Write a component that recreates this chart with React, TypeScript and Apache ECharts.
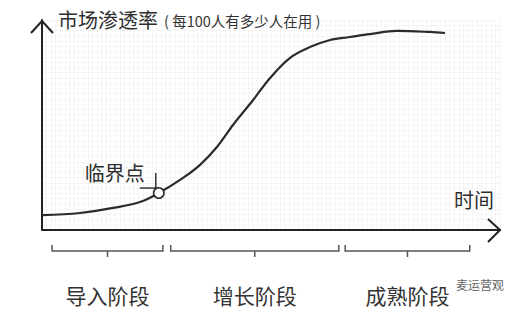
import React, { useEffect, useRef } from "react";
import * as echarts from "echarts";

// S-curve: time (0-100) vs market penetration (per 100 people)
const timeX = [0, 8.3, 15.5, 21.4, 25.5, 30.8, 34.5, 38.2, 41.7, 46.1, 49.8, 54.1, 58.5, 62.9, 67.2, 71.6, 77.5, 84.7, 88.0];
const penetration = [7.1, 8.1, 10.5, 13.3, 17.6, 24.8, 31.0, 39.5, 50.0, 61.9, 72.4, 81.9, 87.1, 90.5, 91.9, 93.3, 94.8, 94.3, 93.8];

const stageNames = ["导入阶段", "增长阶段", "成熟阶段"];
const stageStart = [2.2, 28.1, 66.2];
const stageEnd = [26.4, 64.8, 93.4];

const criticalPoint = [25.5, 17.6];
const criticalLabel = "临界点";

const yTitle = "市场渗透率";
const ySubtitle = "( 每100人有多少人在用 )";
const xTitle = "时间";
const watermark = "麦运营观";

const FONT = '"Noto Sans CJK SC", "Noto Sans", sans-serif';

export default function App() {
  const ref = useRef<HTMLDivElement>(null);

  useEffect(() => {
    if (!ref.current) return;
    const chart = echarts.init(ref.current, null, { renderer: "svg" });

    const option: any = {
      animation: false,
      backgroundColor: "#ffffff",
      grid: { left: 42, right: 18, top: 20, bottom: 85 },
      xAxis: {
        type: "value",
        min: 0,
        max: 100,
        interval: 1,
        axisLine: { show: true, onZero: false, lineStyle: { color: "#222", width: 2 } },
        axisTick: { show: false },
        axisLabel: { show: false },
        splitLine: { show: true, lineStyle: { color: "#f5f5f5", width: 1 } },
      },
      yAxis: {
        type: "value",
        min: 0,
        max: 100,
        interval: 2.5,
        axisLine: { show: true, onZero: false, lineStyle: { color: "#222", width: 2 } },
        axisTick: { show: false },
        axisLabel: { show: false },
        splitLine: { show: true, lineStyle: { color: "#f5f5f5", width: 1 } },
      },
      graphic: [
        {
          type: "text",
          left: 57,
          top: 8,
          z: 100,
          style: { text: yTitle, font: `20px ${FONT}`, fill: "#2e2e2e", stroke: "#fff", lineWidth: 2 },
        },
        {
          type: "text",
          left: 163,
          top: 12,
          z: 100,
          style: { text: ySubtitle, font: `14.5px ${FONT}`, fill: "#333", stroke: "#fff", lineWidth: 2 },
        },
        {
          type: "text",
          left: 453,
          top: 188,
          z: 100,
          style: { text: xTitle, font: `20px ${FONT}`, fill: "#2e2e2e", stroke: "#fff", lineWidth: 2 },
        },
        {
          type: "text",
          left: 455,
          top: 277,
          z: 100,
          style: { text: watermark, font: `12px ${FONT}`, fill: "#666", stroke: "#fff", lineWidth: 2 },
        },
      ],
      series: [
        {
          type: "line",
          data: timeX.map((x, i) => [x, penetration[i]]),
          smooth: 0.35,
          showSymbol: false,
          lineStyle: { color: "#2b2b2b", width: 2.2 },
          z: 3,
        },
        {
          type: "custom",
          clip: false,
          z: 5,
          data: [criticalPoint],
          renderItem: (params: any, api: any) => {
            const p = api.coord([api.value(0), api.value(1)]);
            return {
              type: "group",
              children: [
                {
                  type: "line",
                  shape: { x1: p[0] - 19, y1: p[1] - 5, x2: p[0] - 1, y2: p[1] - 5 },
                  style: { stroke: "#333", lineWidth: 1.5 },
                },
                {
                  type: "line",
                  shape: { x1: p[0] - 3, y1: p[1] - 20, x2: p[0] - 3, y2: p[1] - 2 },
                  style: { stroke: "#333", lineWidth: 1.5 },
                },
                {
                  type: "circle",
                  shape: { cx: p[0], cy: p[1], r: 5.2 },
                  style: { fill: "#fff", stroke: "#2b2b2b", lineWidth: 1.6 },
                },
                {
                  type: "text",
                  x: p[0] - 14,
                  y: p[1] - 21,
                  style: {
                    text: criticalLabel,
                    font: `20px ${FONT}`,
                    fill: "#2e2e2e",
                    align: "right",
                    verticalAlign: "middle",
                  },
                },
              ],
            };
          },
        },
        {
          type: "custom",
          clip: false,
          z: 4,
          data: [[100, 100]],
          renderItem: (params: any, api: any) => {
            const xe = api.coord([api.value(0), 0]);
            const ye = api.coord([0, api.value(1)]);
            return {
              type: "group",
              children: [
                {
                  type: "polyline",
                  shape: { points: [[xe[0] - 12, xe[1] - 11], [xe[0], xe[1]], [xe[0] - 12, xe[1] + 12]] },
                  style: { stroke: "#222", lineWidth: 2, fill: null },
                },
                {
                  type: "polyline",
                  shape: { points: [[ye[0] - 11, ye[1] + 13], [ye[0], ye[1] + 1], [ye[0] + 11, ye[1] + 13]] },
                  style: { stroke: "#222", lineWidth: 2, fill: null },
                },
              ],
            };
          },
        },
        {
          type: "custom",
          clip: false,
          z: 4,
          data: stageStart.map((s, i) => [s, stageEnd[i], i]),
          renderItem: (params: any, api: any) => {
            const s = api.value(0);
            const e = api.value(1);
            const idx = params.dataIndex;
            const p0 = api.coord([s, 0]);
            const p1 = api.coord([e, 0]);
            const y = p0[1] + 21;
            const cx = (p0[0] + p1[0]) / 2;
            return {
              type: "group",
              children: [
                {
                  type: "polyline",
                  shape: { points: [[p0[0], y - 6], [p0[0], y], [p1[0], y], [p1[0], y - 6]] },
                  style: { stroke: "#555", lineWidth: 1.5, fill: null },
                },
                {
                  type: "line",
                  shape: { x1: cx, y1: y, x2: cx, y2: y + 6 },
                  style: { stroke: "#555", lineWidth: 1.5 },
                },
                {
                  type: "text",
                  x: cx,
                  y: p0[1] + 65,
                  style: {
                    text: stageNames[idx],
                    font: `21px ${FONT}`,
                    fill: "#333",
                    align: "center",
                    verticalAlign: "middle",
                  },
                },
              ],
            };
          },
        },
      ],
    };

    chart.setOption(option);
    return () => chart.dispose();
  }, []);

  return (
    <div
      ref={ref}
      style={{ position: "fixed", left: 0, top: 0, width: 518, height: 315, background: "#fff" }}
    />
  );
}
